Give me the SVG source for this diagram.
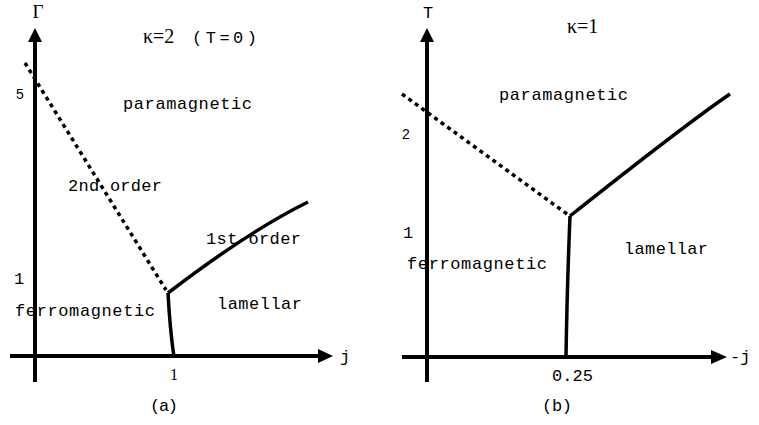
<svg xmlns="http://www.w3.org/2000/svg" width="759" height="425" viewBox="0 0 759 425">
<style>
.mono{font-family:"Liberation Mono","DejaVu Sans Mono",monospace;font-size:17px;fill:#000}
.serif{font-family:"Liberation Serif","DejaVu Serif",serif;fill:#000}
.sans{font-family:"Liberation Sans","DejaVu Sans",sans-serif;fill:#000}
.axis{stroke:#000;stroke-width:4;fill:none}
.solid{stroke:#000;stroke-width:3.5;fill:none}
.dot{stroke:#000;stroke-width:3.5;fill:none;stroke-dasharray:4 4}
</style>
<rect width="759" height="425" fill="#fff"/>
<g id="panel-a">
  <g id="axes-a">
    <path class="axis" d="M35,42 L35,382 M10,356 L318,356"/>
    <polygon points="35,28 28,42 42,42" fill="#000"/>
    <polygon points="333,356 318,349 318,363" fill="#000"/>
    <text class="serif" x="38" y="18" font-size="19" text-anchor="middle">Γ</text>
    <text class="mono" x="340" y="362" font-size="20">j</text>
    <text class="sans" x="16" y="99" font-size="14">5</text>
    <text class="mono" x="14" y="284" font-size="15">1</text>
    <text class="serif" x="174" y="380" font-size="16" text-anchor="middle">1</text>
  </g>
  <g id="connectors-a">
    <path class="dot" d="M25,63 L166,290"/>
    <path class="solid" d="M168,293 Q249,231 308,202"/>
    <path class="solid" d="M168,293 Q170,330 174,357"/>
  </g>
  <g id="title-a">
    <text class="serif" x="143" y="43" font-size="20">κ=2</text>
    <text class="mono" x="192" y="43" font-size="18" textLength="65" lengthAdjust="spacing">(T=0)</text>
  </g>
  <g id="paramagnetic-a"><text class="mono" x="123" y="109" textLength="129" lengthAdjust="spacing">paramagnetic</text></g>
  <g id="second-order"><text class="mono" x="68" y="191" textLength="94" lengthAdjust="spacing">2nd order</text></g>
  <g id="first-order"><text class="mono" x="206" y="244" textLength="95" lengthAdjust="spacing">1st order</text></g>
  <g id="ferromagnetic-a"><text class="mono" x="15" y="316" textLength="140" lengthAdjust="spacing">ferromagnetic</text></g>
  <g id="lamellar-a"><text class="mono" x="217" y="309" textLength="85" lengthAdjust="spacing">lamellar</text></g>
  <text class="mono" x="150" y="411" font-size="16" textLength="28" lengthAdjust="spacing">(a)</text>
</g>
<g id="panel-b">
  <g id="axes-b">
    <path class="axis" d="M427,42 L427,382 M402,357 L711,357"/>
    <polygon points="427,28 420,42 434,42" fill="#000"/>
    <polygon points="727,357 711,350 711,364" fill="#000"/>
    <text class="mono" x="428" y="18" font-size="19" text-anchor="middle">T</text>
    <text class="mono" x="730" y="362" font-size="20">-j</text>
    <text class="sans" x="402" y="139" font-size="14">2</text>
    <text class="mono" x="403" y="238" font-size="15">1</text>
    <text class="mono" x="552" y="381" font-size="16" textLength="41" lengthAdjust="spacing">0.25</text>
  </g>
  <g id="connectors-b">
    <path class="dot" d="M402,94 L567,214"/>
    <path class="solid" d="M570,216 Q686,124 730,94"/>
    <path class="solid" d="M570,216 Q567,290 566,357"/>
  </g>
  <g id="title-b"><text class="serif" x="567" y="33" font-size="20">κ=1</text></g>
  <g id="paramagnetic-b"><text class="mono" x="499" y="100" textLength="129" lengthAdjust="spacing">paramagnetic</text></g>
  <g id="ferromagnetic-b"><text class="mono" x="407" y="269" textLength="140" lengthAdjust="spacing">ferromagnetic</text></g>
  <g id="lamellar-b"><text class="mono" x="624" y="254" textLength="84" lengthAdjust="spacing">lamellar</text></g>
  <text class="mono" x="542" y="411" font-size="16" textLength="30" lengthAdjust="spacing">(b)</text>
</g>
</svg>
